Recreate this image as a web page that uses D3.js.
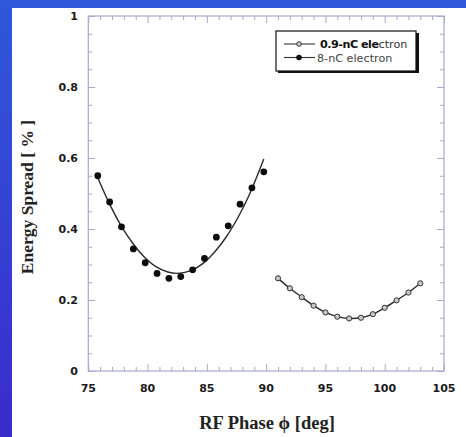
<!DOCTYPE html>
<html>
<head>
<meta charset="utf-8">
<script src="https://cdn.jsdelivr.net/npm/d3@7"></script>
<style>
  html, body { margin: 0; padding: 0; background: #fff; }
  svg { display: block; }
</style>
</head>
<body>
<svg id="chart" width="466" height="437"></svg>
<script>
// Measured energy spread versus RF phase, 8-nC beam
const phase8nC = [75.8, 76.8, 77.8, 78.8, 79.8, 80.8, 81.8, 82.8, 83.8, 84.8, 85.8, 86.8, 87.8, 88.8, 89.8];
const spread8nC = [0.550, 0.476, 0.406, 0.344, 0.305, 0.275, 0.261, 0.266, 0.285, 0.317, 0.377, 0.409, 0.470, 0.516, 0.561];

// Parabolic fit through the 8-nC data
const fitPhase8nC = [75.7, 76.7, 77.7, 78.7, 79.7, 80.7, 81.7, 82.5, 83.6, 84.6, 85.6, 86.6, 87.6, 88.6, 89.8];
const fitSpread8nC = [0.552, 0.477, 0.413, 0.362, 0.322, 0.294, 0.279, 0.275, 0.282, 0.301, 0.333, 0.376, 0.431, 0.498, 0.597];

// Measured energy spread versus RF phase, 0.9-nC beam
const phase09nC = [91, 92, 93, 94, 95, 96, 97, 98, 99, 100, 101, 102, 103];
const spread09nC = [0.261, 0.233, 0.208, 0.184, 0.165, 0.153, 0.148, 0.150, 0.160, 0.178, 0.199, 0.221, 0.247];

const xTicks = [75, 80, 85, 90, 95, 100, 105];
const yTicks = [0, 0.2, 0.4, 0.6, 0.8, 1];
const yTickLabels = ["0", "0.2", "0.4", "0.6", "0.8", "1"];

const svg = d3.select("#chart");
const W = 466, H = 437;

// Slide background: blue band on the top and left, white panel elsewhere
const defs = svg.append("defs");
const grad = defs.append("linearGradient")
  .attr("id", "bg").attr("x1", 0).attr("y1", 0).attr("x2", 0).attr("y2", 1);
grad.append("stop").attr("offset", "0%").attr("stop-color", "#2f58d9");
grad.append("stop").attr("offset", "100%").attr("stop-color", "#3a2bcc");
svg.append("rect").attr("width", W).attr("height", H).attr("fill", "url(#bg)");
svg.append("rect").attr("x", 12).attr("y", 8).attr("width", W - 12).attr("height", H - 8).attr("fill", "#ffffff");

const x = d3.scaleLinear().domain([75, 105]).range([88.3, 444]);
const y = d3.scaleLinear().domain([0, 1]).range([371, 16]);

const frameColor = "#a6aacd";
const plot = svg.append("g");

// Frame
plot.append("rect")
  .attr("x", x(75)).attr("y", y(1))
  .attr("width", x(105) - x(75)).attr("height", y(0) - y(1))
  .attr("fill", "none").attr("stroke", frameColor).attr("stroke-width", 1.2);

// Inward ticks on all four sides
const xMinor = d3.range(75, 105.01, 1);
const yMinor = d3.range(0, 1.001, 0.05);
const isMajorX = v => Math.abs(v % 5) < 1e-6;
const isMajorY = v => Math.abs(Math.round(v * 100) % 20) < 1e-6;

const bottomAxis = d3.axisBottom(x).tickValues(xMinor).tickFormat("")
  .tickSizeInner(-4).tickSizeOuter(0);
const topAxis = d3.axisTop(x).tickValues(xMinor).tickFormat("")
  .tickSizeInner(-4).tickSizeOuter(0);
const leftAxis = d3.axisLeft(y).tickValues(yMinor).tickFormat("")
  .tickSizeInner(-4).tickSizeOuter(0);
const rightAxis = d3.axisRight(y).tickValues(yMinor).tickFormat("")
  .tickSizeInner(-4).tickSizeOuter(0);

function styleTicks(g, isMajor, sign, horiz) {
  g.select(".domain").remove();
  g.selectAll(".tick line")
    .attr("stroke", frameColor).attr("stroke-width", 1)
    .each(function(d) {
      const len = isMajor(d) ? 7 : 4;
      if (horiz) d3.select(this).attr("y2", sign * len);
      else d3.select(this).attr("x2", sign * len);
    });
}

plot.append("g").attr("transform", `translate(0,${y(0)})`).call(bottomAxis)
  .call(g => styleTicks(g, isMajorX, -1, true));
plot.append("g").attr("transform", `translate(0,${y(1)})`).call(topAxis)
  .call(g => styleTicks(g, isMajorX, 1, true));
plot.append("g").attr("transform", `translate(${x(75)},0)`).call(leftAxis)
  .call(g => styleTicks(g, v => isMajorY(v), 1, false));
plot.append("g").attr("transform", `translate(${x(105)},0)`).call(rightAxis)
  .call(g => styleTicks(g, v => isMajorY(v), -1, false));

// Tick labels
const labelFont = "'DejaVu Sans', Verdana, sans-serif";
svg.append("g").selectAll("text").data(xTicks).join("text")
  .attr("x", d => x(d)).attr("y", 392)
  .attr("text-anchor", "middle")
  .attr("font-family", labelFont).attr("font-weight", "bold").attr("font-size", 11)
  .attr("fill", "#1a1a1a")
  .text(d => d);

svg.append("g").selectAll("text").data(yTicks).join("text")
  .attr("x", 78).attr("y", d => y(d) + 4)
  .attr("text-anchor", "end")
  .attr("font-family", labelFont).attr("font-weight", "bold").attr("font-size", 11)
  .attr("fill", "#1a1a1a")
  .text((d, i) => yTickLabels[i]);

// Axis titles
const titleFont = "'Liberation Serif', 'Times New Roman', serif";
svg.append("text")
  .attr("x", 267).attr("y", 429)
  .attr("text-anchor", "middle")
  .attr("font-family", titleFont).attr("font-weight", "bold").attr("font-size", 18.5)
  .attr("fill", "#222")
  .text("RF Phase \u03D5 [deg]");

svg.append("text")
  .attr("transform", "translate(33,197) rotate(-90)")
  .attr("text-anchor", "middle")
  .attr("font-family", titleFont).attr("font-weight", "bold").attr("font-size", 17.5)
  .attr("fill", "#222")
  .text("Energy Spread [ % ]");

// Fit curves
const line = d3.line().x(d => x(d[0])).y(d => y(d[1])).curve(d3.curveCatmullRom);
const fit8 = fitPhase8nC.map((p, i) => [p, fitSpread8nC[i]]);
const pts09 = phase09nC.map((p, i) => [p, spread09nC[i]]);

plot.append("path").datum(fit8).attr("d", line)
  .attr("fill", "none").attr("stroke", "#2b2b2b").attr("stroke-width", 1.4);
plot.append("path").datum(pts09).attr("d", line)
  .attr("fill", "none").attr("stroke", "#2b2b2b").attr("stroke-width", 1.4);

// Markers
plot.append("g").selectAll("circle").data(phase8nC).join("circle")
  .attr("cx", d => x(d)).attr("cy", (d, i) => y(spread8nC[i]))
  .attr("r", 3.4).attr("fill", "#0d0d0d");

plot.append("g").selectAll("circle").data(phase09nC).join("circle")
  .attr("cx", d => x(d)).attr("cy", (d, i) => y(spread09nC[i]))
  .attr("r", 2.6).attr("fill", "#c8c8c8").attr("stroke", "#333").attr("stroke-width", 1);

// Legend
const lg = svg.append("g");
lg.append("rect").attr("x", 278).attr("y", 33).attr("width", 141).attr("height", 40).attr("fill", "#111");
lg.append("rect").attr("x", 276).attr("y", 31).attr("width", 140).attr("height", 40)
  .attr("fill", "#fff").attr("stroke", "#111").attr("stroke-width", 1.2);

const rows = [
  { y: 44, open: true },
  { y: 57.5, open: false }
];
rows.forEach(r => {
  lg.append("line").attr("x1", 284).attr("x2", 315).attr("y1", r.y).attr("y2", r.y)
    .attr("stroke", "#333").attr("stroke-width", 1.1);
  if (r.open) {
    lg.append("circle").attr("cx", 299).attr("cy", r.y).attr("r", 2.3)
      .attr("fill", "#ccc").attr("stroke", "#333").attr("stroke-width", 1);
  } else {
    lg.append("circle").attr("cx", 299).attr("cy", r.y).attr("r", 2.8).attr("fill", "#111");
  }
});

const legendFont = "'DejaVu Sans', Verdana, sans-serif";
const t1 = lg.append("text").attr("x", 320).attr("y", 48)
  .attr("font-family", legendFont).attr("font-size", 11.2).attr("fill", "#111");
t1.append("tspan").attr("font-weight", "bold").attr("letter-spacing", -0.5).text("0.9-nC ele");
t1.append("tspan").attr("fill", "#333").text("ctron");

lg.append("text").attr("x", 317).attr("y", 61.5)
  .attr("font-family", legendFont).attr("font-size", 11.2).attr("fill", "#444")
  .text("8-nC electron");
</script>
</body>
</html>
